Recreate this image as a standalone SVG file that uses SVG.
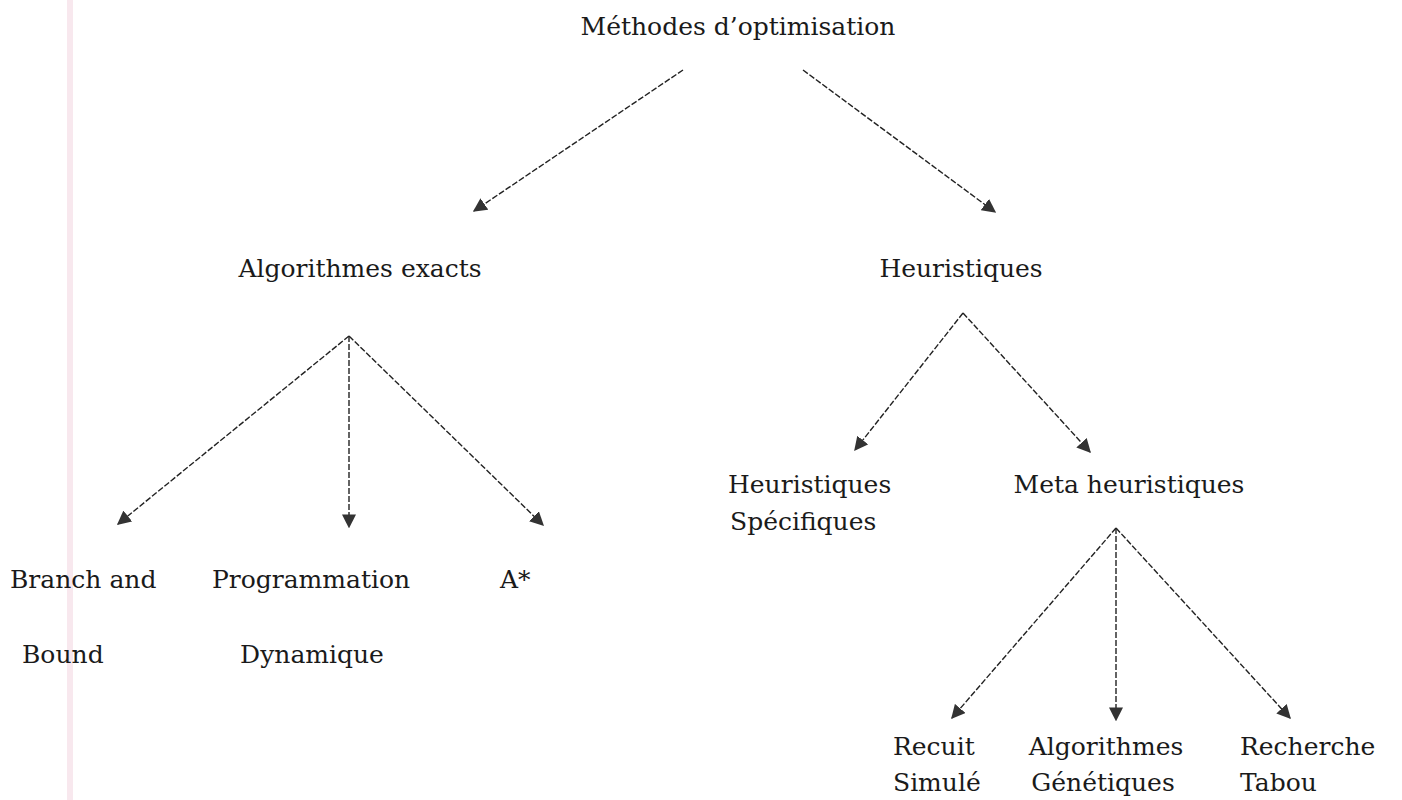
<svg xmlns="http://www.w3.org/2000/svg" width="1402" height="800" viewBox="0 0 1402 800">
  <style>
    .lbl { font-family: "DejaVu Serif", "Liberation Serif", serif; font-size: 25px; fill: #1a1a1a; }
    .mid { text-anchor: middle; }
    .edge { stroke: #222; stroke-width: 1.4; stroke-dasharray: 6 2; fill: none; marker-end: url(#head); }
  </style>
  <defs>
    <marker id="head" viewBox="0 0 10 10" refX="9" refY="5" markerWidth="14" markerHeight="14" markerUnits="userSpaceOnUse" orient="auto">
      <path d="M0,0 L10,5 L0,10 Z" fill="#333"/>
    </marker>
  </defs>
  <rect width="1402" height="800" fill="#fff"/>
  <!-- paper margin line -->
  <rect x="67" y="0" width="6" height="800" fill="#f8e8ee"/>

  <g id="connectors">
    <line class="edge" x1="683" y1="70" x2="474" y2="211"/>
    <line class="edge" x1="803" y1="70" x2="995" y2="212"/>
    <line class="edge" x1="349" y1="336" x2="118" y2="524"/>
    <line class="edge" x1="349" y1="336" x2="349" y2="527"/>
    <line class="edge" x1="349" y1="336" x2="543" y2="525"/>
    <line class="edge" x1="963" y1="313" x2="855" y2="450"/>
    <line class="edge" x1="963" y1="313" x2="1090" y2="452"/>
    <line class="edge" x1="1116" y1="528" x2="952" y2="718"/>
    <line class="edge" x1="1116" y1="528" x2="1116" y2="720"/>
    <line class="edge" x1="1116" y1="528" x2="1290" y2="718"/>
  </g>

  <g id="n-methodes"><text class="lbl mid" x="738" y="35">Méthodes d’optimisation</text></g>
  <g id="n-exacts"><text class="lbl mid" x="360" y="277">Algorithmes exacts</text></g>
  <g id="n-heuristiques"><text class="lbl mid" x="961" y="277">Heuristiques</text></g>
  <g id="n-specifiques">
    <text class="lbl" x="728" y="493">Heuristiques</text>
    <text class="lbl" x="730" y="530">Spécifiques</text>
  </g>
  <g id="n-meta"><text class="lbl mid" x="1129" y="493">Meta heuristiques</text></g>
  <g id="n-bb">
    <text class="lbl" x="10" y="588">Branch and</text>
    <text class="lbl" x="22" y="663">Bound</text>
  </g>
  <g id="n-pd">
    <text class="lbl mid" x="311" y="588">Programmation</text>
    <text class="lbl mid" x="312" y="663">Dynamique</text>
  </g>
  <g id="n-astar"><text class="lbl" x="500" y="588">A*</text></g>
  <g id="n-recuit">
    <text class="lbl" x="893" y="755">Recuit</text>
    <text class="lbl" x="893" y="791">Simulé</text>
  </g>
  <g id="n-genetiques">
    <text class="lbl mid" x="1106" y="755">Algorithmes</text>
    <text class="lbl mid" x="1103" y="791">Génétiques</text>
  </g>
  <g id="n-tabou">
    <text class="lbl" x="1240" y="755">Recherche</text>
    <text class="lbl" x="1240" y="791">Tabou</text>
  </g>
</svg>
